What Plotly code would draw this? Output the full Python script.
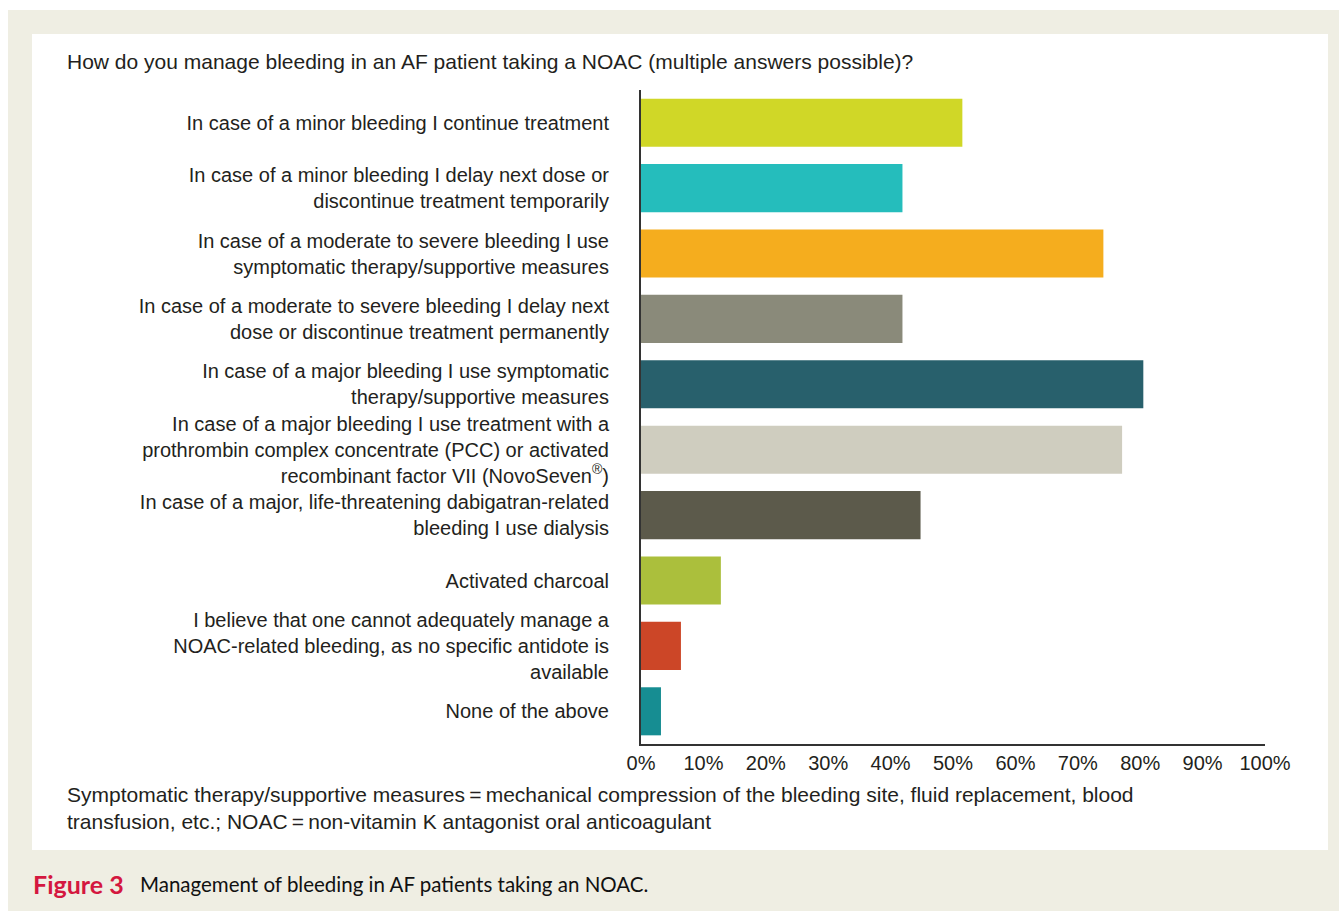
import plotly.graph_objects as go

# Survey answers (top to bottom) and share of respondents (%)
categories = [
    "In case of a minor bleeding I continue treatment",
    "In case of a minor bleeding I delay next dose or<br>discontinue treatment temporarily",
    "In case of a moderate to severe bleeding I use<br>symptomatic therapy/supportive measures",
    "In case of a moderate to severe bleeding I delay next<br>dose or discontinue treatment permanently",
    "In case of a major bleeding I use symptomatic<br>therapy/supportive measures",
    "In case of a major bleeding I use treatment with a<br>prothrombin complex concentrate (PCC) or activated<br>recombinant factor VII (NovoSeven<sup>®</sup>)",
    "In case of a major, life-threatening dabigatran-related<br>bleeding I use dialysis",
    "Activated charcoal",
    "I believe that one cannot adequately manage a<br>NOAC-related bleeding, as no specific antidote is<br>available",
    "None of the above",
]
percent = [51.5, 41.9, 74.1, 41.9, 80.5, 77.1, 44.8, 12.8, 6.4, 3.2]
bar_colors = [
    "#d0d727", "#25bdbc", "#f5ad1e", "#8a8a7a", "#28606c",
    "#cfcdbf", "#5c5a4b", "#abbf3c", "#cc4627", "#168d92",
]
tick_values = list(range(0, 101, 10))
tick_labels = [f"{v}%" for v in tick_values]

W, H = 1339, 911
L, R, T, B = 641, 1265, 90, 744  # plot area in pixels


def px(x):
    return (x - L) / (R - L)


def py(y):
    return (B - y) / (B - T)


FONT = "Liberation Sans, Arial, sans-serif"
TXT = "#231f20"

fig = go.Figure(
    go.Bar(
        x=percent,
        y=categories,
        orientation="h",
        marker=dict(color=bar_colors, line=dict(width=0)),
        hoverinfo="x+y",
    )
)

fig.update_layout(
    width=W,
    height=H,
    margin=dict(l=L, r=W - R, t=T, b=H - B),
    paper_bgcolor="white",
    plot_bgcolor="rgba(0,0,0,0)",
    bargap=0.265,
    showlegend=False,
    font=dict(family=FONT, size=20, color=TXT),
)

fig.update_xaxes(
    range=[0, 100],
    tickvals=tick_values,
    ticktext=tick_labels,
    showgrid=False,
    zeroline=False,
    showline=True,
    linecolor="#333333",
    linewidth=2,
    ticks="",
    tickfont=dict(size=20, color=TXT),
    fixedrange=True,
)
fig.update_yaxes(
    autorange="reversed",
    showgrid=False,
    showline=True,
    linecolor="#333333",
    linewidth=2,
    ticks="",
    ticklabelstandoff=26,
    tickfont=dict(size=20, color=TXT),
    fixedrange=True,
)

# Beige frame and white panel behind the chart
fig.add_shape(type="rect", xref="paper", yref="paper",
              x0=px(8), x1=px(1339), y0=py(911), y1=py(10),
              fillcolor="#efeee3", line=dict(width=0), layer="below")
fig.add_shape(type="rect", xref="paper", yref="paper",
              x0=px(32), x1=px(1328), y0=py(850), y1=py(34),
              fillcolor="white", line=dict(width=0), layer="below")

# Question heading
fig.add_annotation(
    xref="paper", yref="paper", x=px(65), y=py(61),
    xanchor="left", yanchor="middle", showarrow=False,
    text="How do you manage bleeding in an AF patient taking a NOAC (multiple answers possible)?",
    font=dict(size=21, color=TXT, family=FONT),
)

# Footnote
fig.add_annotation(
    xref="paper", yref="paper", x=px(65), y=py(808),
    xanchor="left", yanchor="middle", align="left", showarrow=False,
    text=("Symptomatic therapy/supportive measures\u2009=\u2009mechanical compression of the bleeding site, fluid replacement, blood<br>"
          "transfusion, etc.; NOAC\u2009=\u2009non-vitamin K antagonist oral anticoagulant"),
    font=dict(size=21, color=TXT, family=FONT),
)

# Figure caption
fig.add_annotation(
    xref="paper", yref="paper", x=px(31), y=py(884),
    xanchor="left", yanchor="middle", showarrow=False,
    text="<b>Figure 3</b>",
    font=dict(size=25, color="#d4173f", family="Lato, Open Sans, sans-serif"),
)
fig.add_annotation(
    xref="paper", yref="paper", x=px(138), y=py(884),
    xanchor="left", yanchor="middle", showarrow=False,
    text="Management of bleeding in AF patients taking an NOAC.",
    font=dict(size=20.5, color="#111111", family="Lato, Open Sans, sans-serif"),
)

fig.write_html("out.html")
